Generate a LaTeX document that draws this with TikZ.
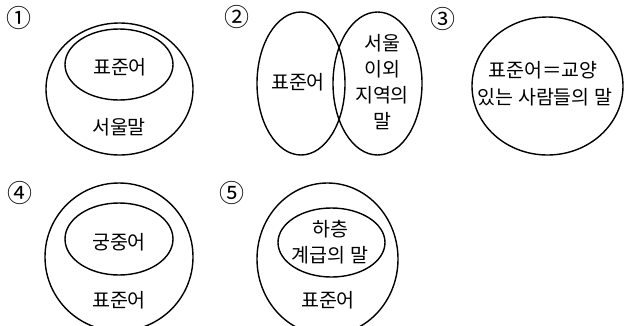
\documentclass[tikz,border=0pt]{standalone}
\usepackage{fontspec}
\setmainfont{Noto Sans CJK KR}
\usetikzlibrary{shapes.geometric}
\tikzset{
  ring/.style={draw, ellipse, line width=1.4pt, inner sep=0pt, outer sep=0pt},
  word/.style={inner sep=0pt, font=\fontsize{19.5}{26}\selectfont, align=center},
  num/.style={inner sep=0pt, font=\fontsize{25}{26}\selectfont}
}
\begin{document}
\begin{tikzpicture}[x=1pt,y=-1pt]
\useasboundingbox (0,0) rectangle (629,325);
\clip (0,0) rectangle (629,325);
% 1
\node[num] (n1) at (19,18) {①};
\node[ring, minimum width=147pt, minimum height=132pt] (o1) at (119.5,89) {};
\node[ring, minimum width=108pt, minimum height=71pt] (i1) at (119,64.5) {};
\node[word] (t1a) at (120,67) {표준어};
\node[word] (t1b) at (119,127) {서울말};
% 2
\node[num] (n2) at (237,17) {②};
\node[ring, minimum width=88pt, minimum height=143pt] (l2) at (301,83.5) {};
\node[ring, minimum width=89pt, minimum height=143pt] (r2) at (377.5,83.5) {};
\node[word] (t2a) at (298,82) {표준어};
\node[word] (t2b) at (382,82.5) {서울\\이외\\지역의\\말};
% 3
\node[num] (n3) at (443,19) {③};
\node[ring, minimum width=151pt, minimum height=138pt] (c3) at (547.5,86) {};
\node[word] (t3a) at (543,70) {표준어＝교양};
\node[word] (t3b) at (545,97) {있는\hspace{4.5pt}사람들의\hspace{4.5pt}말};
% 4
\node[num] (n4) at (20,193) {④};
\node[ring, minimum width=148pt, minimum height=148pt] (o4) at (119,257) {};
\node[ring, minimum width=108pt, minimum height=72pt] (i4) at (119,239) {};
\node[word] (t4a) at (119,242) {궁중어};
\node[word] (t4b) at (119,300) {표준어};
% 5
\node[num] (n5) at (232,193) {⑤};
\node[ring, minimum width=141pt, minimum height=152pt] (o5) at (327.5,259) {};
\node[ring, minimum width=107pt, minimum height=69pt] (i5) at (331.5,242.5) {};
\node[word] (t5a) at (330,242.5) {하층\\계급의 말};
\node[word] (t5b) at (328,300) {표준어};
\end{tikzpicture}
\end{document}
